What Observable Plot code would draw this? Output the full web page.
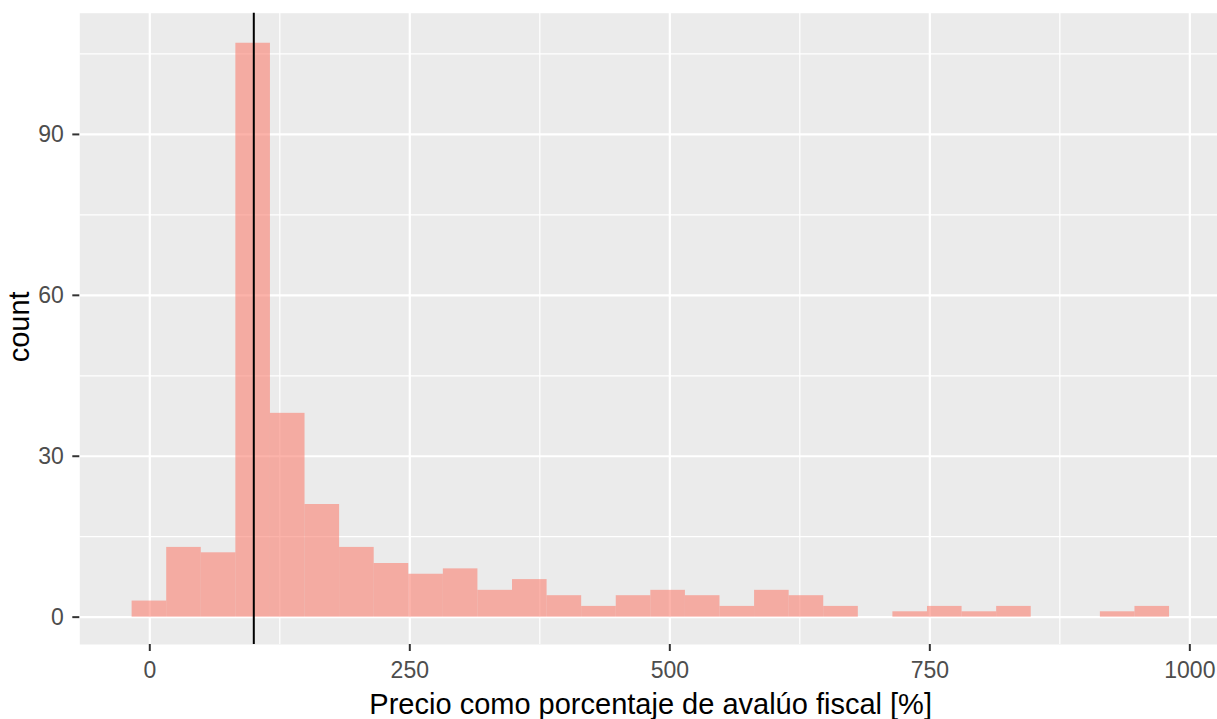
<!DOCTYPE html>
<html>
<head>
<meta charset="utf-8">
<script src="https://cdn.jsdelivr.net/npm/d3@7"></script>
<script src="https://cdn.jsdelivr.net/npm/@observablehq/plot@0.6"></script>
<style>
  html, body { margin: 0; padding: 0; background: #ffffff; }
  #chart svg { display: block; }
</style>
</head>
<body>
<div id="chart"></div>
<script>
// Histogram bins (lower edges) and counts
const binEdges = [-17, 16.25, 49.5, 82.75, 116, 149.25, 182.5, 215.75, 249, 282.25,
  315.5, 348.75, 382, 415.25, 448.5, 481.75, 515, 548.25, 581.5, 614.75,
  648, 681.25, 714.5, 747.75, 781, 814.25, 847.5, 880.75, 914, 947.25, 980.5];
const counts = [3, 13, 12, 107, 38, 21, 13, 10, 8, 9,
  5, 7, 4, 2, 4, 5, 4, 2, 5, 4,
  2, 0, 1, 2, 1, 2, 0, 0, 1, 2];
const referenceLine = [100];
const xTicks = [0, 250, 500, 750, 1000];
const xMinor = [125, 375, 625, 875];
const yTicks = [0, 30, 60, 90];
const yMinor = [15, 45, 75, 105];
const xTitle = "Precio como porcentaje de avalúo fiscal [%]";
const yTitle = "count";

const bins = counts.map((c, i) => ({x1: binEdges[i], x2: binEdges[i + 1], count: c}));

const chart = Plot.plot({
  width: 1217,
  height: 719,
  marginLeft: 79.3,
  marginRight: 0,
  marginTop: 12.7,
  marginBottom: 75,
  style: {fontFamily: "'Liberation Sans', Arial, sans-serif", background: "#ffffff"},
  x: {domain: [-67.3, 1026.6]},
  y: {domain: [-5.1, 112.6]},
  marks: [
    Plot.frame({fill: "#EBEBEB", stroke: null}),
    Plot.ruleX(xMinor, {stroke: "#ffffff", strokeWidth: 1.2}),
    Plot.ruleY(yMinor, {stroke: "#ffffff", strokeWidth: 1.2}),
    Plot.ruleX(xTicks, {stroke: "#ffffff", strokeWidth: 2.2}),
    Plot.ruleY(yTicks, {stroke: "#ffffff", strokeWidth: 2.2}),
    Plot.rectY(bins, {x1: "x1", x2: "x2", y1: 0, y2: "count", fill: "salmon", fillOpacity: 0.6}),
    Plot.ruleX(referenceLine, {stroke: "#000000", strokeWidth: 2}),
    Plot.axisX({ticks: xTicks, tickSize: 7, tickPadding: 10, fontSize: 23, color: "#4D4D4D", stroke: "#333333", strokeWidth: 2, label: null, tickFormat: d => String(d)}),
    Plot.axisY({ticks: yTicks, tickSize: 7, tickPadding: 9, fontSize: 23, color: "#4D4D4D", stroke: "#333333", strokeWidth: 2, label: null, tickFormat: d => String(d)}),
    Plot.text([xTitle], {frameAnchor: "bottom", dy: 69, dx: 2, lineAnchor: "bottom", textAnchor: "middle", fontSize: 29, fill: "#000000"}),
    Plot.text([yTitle], {frameAnchor: "left", dx: -50.8, dy: -2, rotate: -90, lineAnchor: "bottom", textAnchor: "middle", fontSize: 29, fill: "#000000"})
  ]
});
document.getElementById("chart").appendChild(chart);
</script>
</body>
</html>
